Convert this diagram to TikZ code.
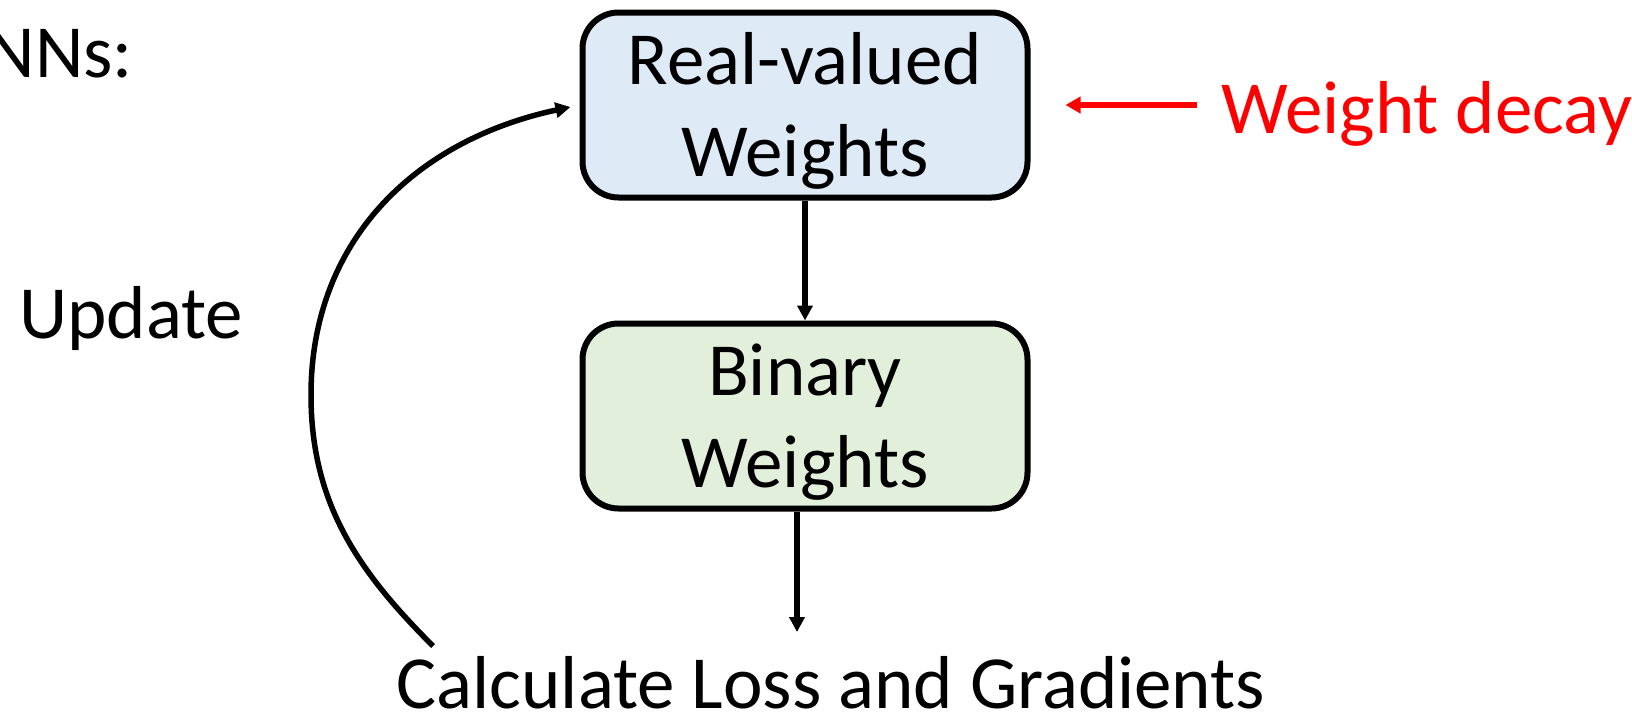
\documentclass[tikz,border=0pt]{standalone}
\usepackage{fontspec}
\setmainfont{Carlito}
\usetikzlibrary{arrows.meta}
\definecolor{realfill}{HTML}{DEEAF6}
\definecolor{binfill}{HTML}{E2EFDA}
\definecolor{decayred}{HTML}{FF0000}
\begin{document}
\begin{tikzpicture}[x=1pt,y=-1pt,
  bigtext/.style={font=\fontsize{75}{92}\selectfont},
  % the text box of a two-line node sits on its last baseline
  wbox/.style={draw=black, line width=6pt, rounded corners=36pt,
    minimum width=445pt, minimum height=185pt, align=center,
    inner sep=0pt, text height=148pt, text depth=5pt, bigtext},
  lbl/.style={inner sep=0pt, bigtext},
  flow/.style={line width=5.5pt, -{Triangle[length=15pt,width=15pt]}},
  redflow/.style={draw=decayred, line width=5.5pt, -{Triangle[length=15pt,width=16pt]}}]
\useasboundingbox (0,0) rectangle (1632,720);
\clip (0,0) rectangle (1632,720);

% the two weight boxes
\node[wbox, fill=realfill] (real) at (805,105) {Real-valued\\Weights};
\node[wbox, fill=binfill] (bin) at (805,416) {Binary\\Weights};

% free labels
\node[lbl, anchor=base east] (title) at (133,77) {NNs:};
\node[lbl, anchor=base west] (update) at (19,338) {Update};
\node[lbl, anchor=base] (loss) at (831,708) {Calculate Loss and Gradients};
\node[lbl, anchor=base west, text=decayred] (decay) at (1221,133) {Weight decay};

% connectors
\coordinate (lossin) at (797,632);
\coordinate (loopstart) at (433,646);
\draw[flow] (real.south) -- (bin.north);
\draw[flow] (bin.south -| lossin) -- (lossin);
\draw[redflow] ([xshift=-24pt]decay.west |- real.east) -- ([xshift=35pt]real.east);
\draw[flow] (loopstart) .. controls (360,573) and (311,505) .. (311,395)
  .. controls (311,240) and (416,140) .. ([xshift=-9pt,yshift=-2pt]real.west);
\end{tikzpicture}
\end{document}
